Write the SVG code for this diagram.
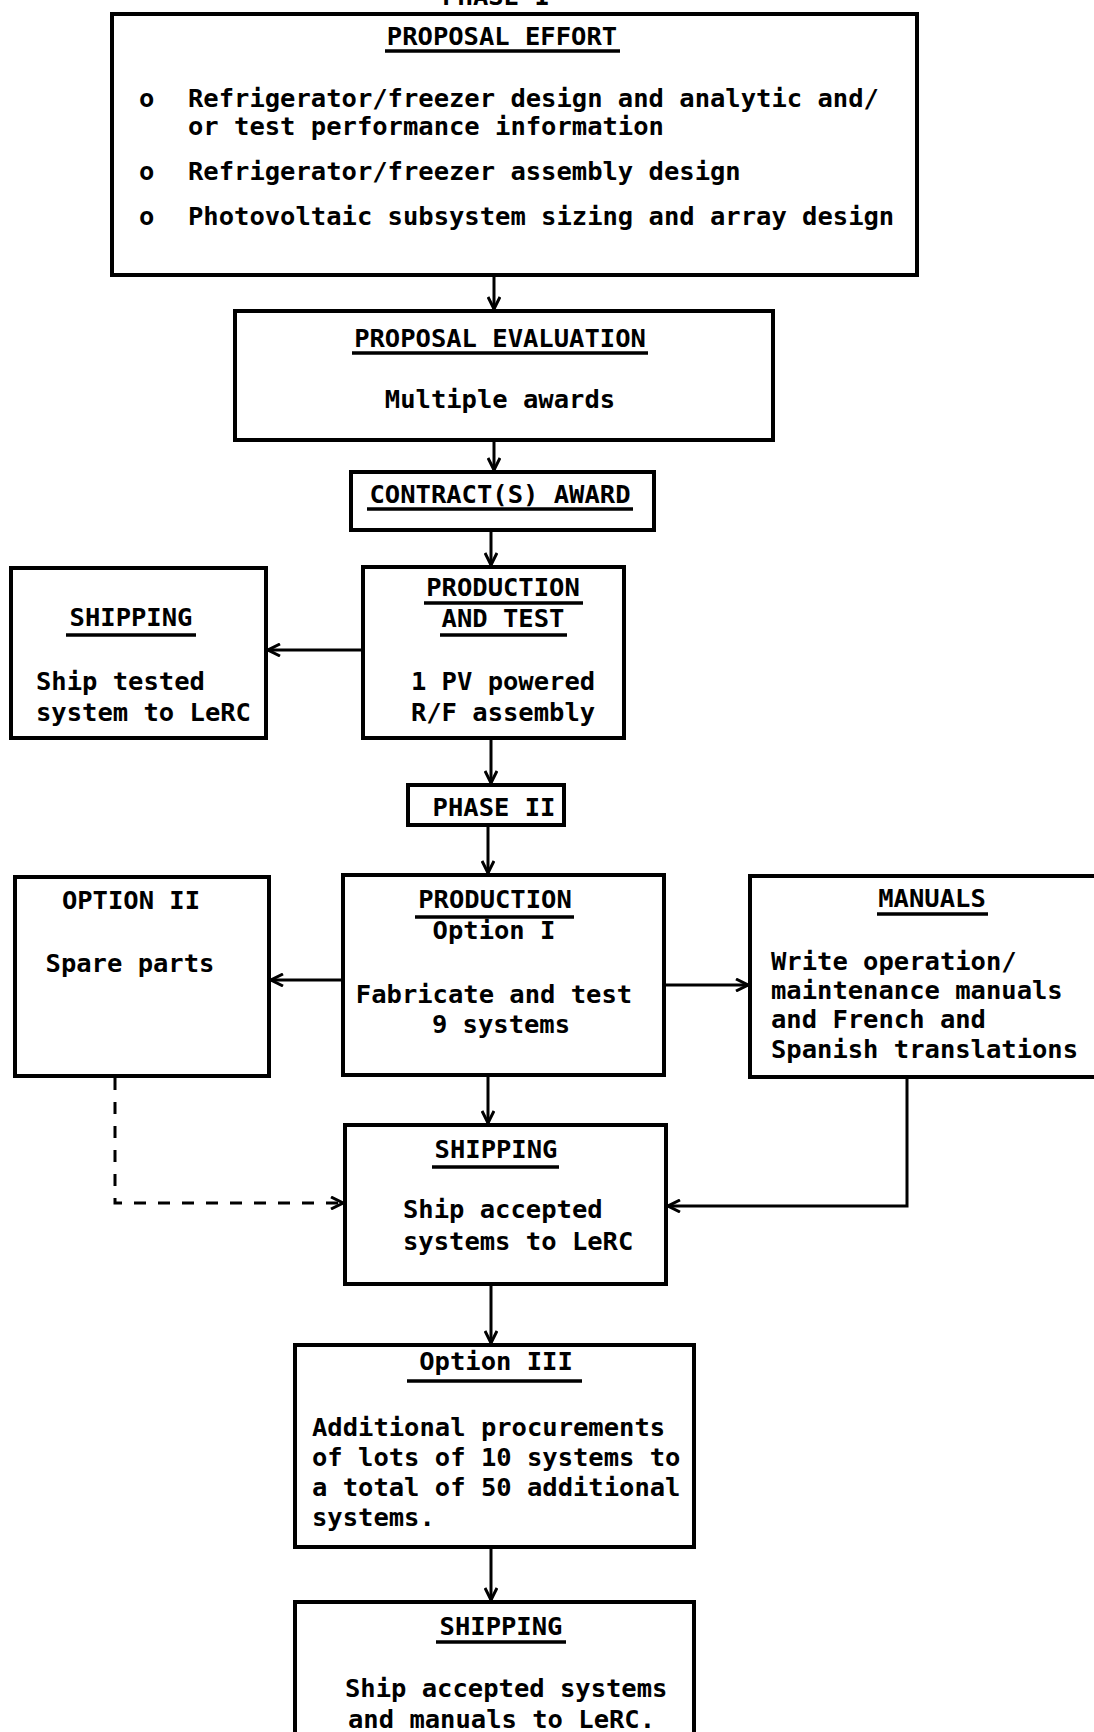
<svg xmlns="http://www.w3.org/2000/svg" width="1094" height="1732" viewBox="0 0 1094 1732">
<style>
  text { font-family: "DejaVu Sans Mono", "Liberation Mono", monospace; font-weight: bold; font-size: 25.5px; fill: #000; }
  .c { text-anchor: middle; }
  .box { fill: #fff; stroke: #000; stroke-width: 4; }
  .ul { stroke: #000; stroke-width: 3.5; }
  .conn { fill: none; stroke: #000; stroke-width: 3; }
  .dash { stroke-dasharray: 12 12; }
</style>
<defs>
  <marker id="arr" viewBox="0 0 14 14" refX="13" refY="7" markerWidth="14" markerHeight="14" markerUnits="userSpaceOnUse" orient="auto">
    <path d="M1,1 L13,7 L1,13" fill="none" stroke="#000" stroke-width="3"/>
  </marker>
</defs>
<rect width="1094" height="1732" fill="#fff"/>
<text class="c" x="496" y="5">PHASE I</text>

<g id="connectors">
  <line class="conn" x1="494" y1="275" x2="494" y2="309" marker-end="url(#arr)"/>
  <line class="conn" x1="494" y1="440" x2="494" y2="470" marker-end="url(#arr)"/>
  <line class="conn" x1="491" y1="530" x2="491" y2="565" marker-end="url(#arr)"/>
  <line class="conn" x1="363" y1="650" x2="268" y2="650" marker-end="url(#arr)"/>
  <line class="conn" x1="491" y1="738" x2="491" y2="783" marker-end="url(#arr)"/>
  <line class="conn" x1="488" y1="825" x2="488" y2="873" marker-end="url(#arr)"/>
  <line class="conn" x1="343" y1="980" x2="271" y2="980" marker-end="url(#arr)"/>
  <line class="conn" x1="664" y1="985" x2="748" y2="985" marker-end="url(#arr)"/>
  <line class="conn" x1="488" y1="1075" x2="488" y2="1123" marker-end="url(#arr)"/>
  <polyline class="conn dash" points="115,1078 115,1203 343,1203" marker-end="url(#arr)"/>
  <polyline class="conn" points="907,1077 907,1206 668,1206" marker-end="url(#arr)"/>
  <line class="conn" x1="491" y1="1284" x2="491" y2="1343" marker-end="url(#arr)"/>
  <line class="conn" x1="491" y1="1547" x2="491" y2="1600" marker-end="url(#arr)"/>
</g>

<g id="proposal-effort">
  <rect class="box" x="112" y="14" width="805" height="261"/>
  <text class="c" x="502" y="45">PROPOSAL EFFORT</text>
  <line class="ul" x1="385" y1="51" x2="620" y2="51"/>
  <text x="139" y="107">o</text>
  <text x="188" y="107">Refrigerator/freezer design and analytic and/</text>
  <text x="188" y="135">or test performance information</text>
  <text x="139" y="180">o</text>
  <text x="188" y="180">Refrigerator/freezer assembly design</text>
  <text x="139" y="225">o</text>
  <text x="188" y="225">Photovoltaic subsystem sizing and array design</text>
</g>

<g id="proposal-evaluation">
  <rect class="box" x="235" y="311" width="538" height="129"/>
  <text class="c" x="500" y="347">PROPOSAL EVALUATION</text>
  <line class="ul" x1="352" y1="353" x2="648" y2="353"/>
  <text class="c" x="500" y="408">Multiple awards</text>
</g>

<g id="contract-award">
  <rect class="box" x="351" y="472" width="303" height="58"/>
  <text class="c" x="500" y="503">CONTRACT(S) AWARD</text>
  <line class="ul" x1="367" y1="509" x2="633" y2="509"/>
</g>

<g id="production-test">
  <rect class="box" x="363" y="567" width="261" height="171"/>
  <text class="c" x="503" y="596">PRODUCTION</text>
  <line class="ul" x1="424" y1="603" x2="583" y2="603"/>
  <text class="c" x="503" y="627">AND TEST</text>
  <line class="ul" x1="440" y1="635" x2="567" y2="635"/>
  <text class="c" x="503" y="690">1 PV powered</text>
  <text class="c" x="503" y="721">R/F assembly</text>
</g>

<g id="shipping-tested">
  <rect class="box" x="11" y="568" width="255" height="170"/>
  <text class="c" x="131" y="626">SHIPPING</text>
  <line class="ul" x1="66" y1="635" x2="196" y2="635"/>
  <text x="36" y="690">Ship tested</text>
  <text x="36" y="721">system to LeRC</text>
</g>

<g id="phase-2">
  <rect class="box" x="408" y="785" width="156" height="40"/>
  <text class="c" x="494" y="816">PHASE II</text>
</g>

<g id="production-option1">
  <rect class="box" x="343" y="875" width="321" height="200"/>
  <text class="c" x="495" y="908">PRODUCTION</text>
  <line class="ul" x1="415" y1="917" x2="574" y2="917"/>
  <text class="c" x="494" y="939">Option I</text>
  <text class="c" x="494" y="1003">Fabricate and test</text>
  <text class="c" x="501" y="1033">9 systems</text>
</g>

<g id="option-2">
  <rect class="box" x="15" y="877" width="254" height="199"/>
  <text class="c" x="131" y="909">OPTION II</text>
  <text class="c" x="130" y="972">Spare parts</text>
</g>

<g id="manuals">
  <rect class="box" x="750" y="876" width="360" height="201"/>
  <text class="c" x="932" y="907">MANUALS</text>
  <line class="ul" x1="877" y1="914" x2="988" y2="914"/>
  <text x="771" y="970">Write operation/</text>
  <text x="771" y="999">maintenance manuals</text>
  <text x="771" y="1028">and French and</text>
  <text x="771" y="1058">Spanish translations</text>
</g>

<g id="shipping-accepted">
  <rect class="box" x="345" y="1125" width="321" height="159"/>
  <text class="c" x="496" y="1158">SHIPPING</text>
  <line class="ul" x1="432" y1="1167" x2="559" y2="1167"/>
  <text x="403" y="1218">Ship accepted</text>
  <text x="403" y="1250">systems to LeRC</text>
</g>

<g id="option-3">
  <rect class="box" x="295" y="1345" width="399" height="202"/>
  <text class="c" x="496" y="1370">Option III</text>
  <line class="ul" x1="407" y1="1381" x2="582" y2="1381"/>
  <text x="312" y="1436">Additional procurements</text>
  <text x="312" y="1466">of lots of 10 systems to</text>
  <text x="312" y="1496">a total of 50 additional</text>
  <text x="312" y="1526">systems.</text>
</g>

<g id="shipping-final">
  <rect class="box" x="295" y="1602" width="399" height="150"/>
  <text class="c" x="501" y="1635">SHIPPING</text>
  <line class="ul" x1="436" y1="1642" x2="566" y2="1642"/>
  <text x="345" y="1697">Ship accepted systems</text>
  <text x="348" y="1728">and manuals to LeRC.</text>
</g>
</svg>
